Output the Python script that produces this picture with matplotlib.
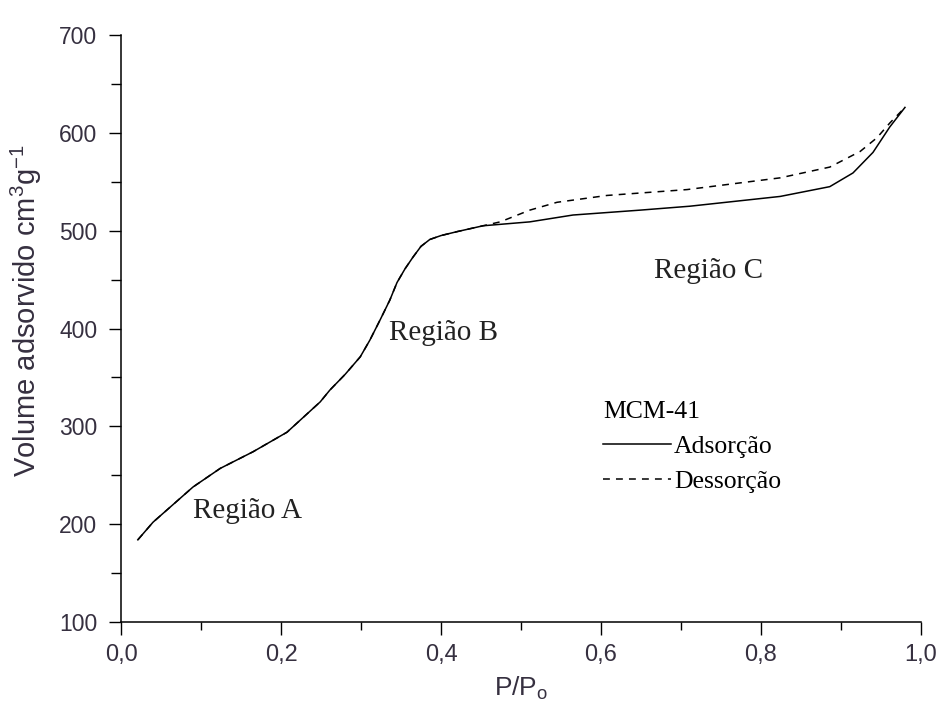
import matplotlib
matplotlib.use("Agg")
import matplotlib.pyplot as plt
from matplotlib.ticker import MultipleLocator, FuncFormatter

plt.rcParams['font.family'] = ['Liberation Sans', 'DejaVu Sans']
plt.rcParams['mathtext.fontset'] = 'custom'
plt.rcParams['mathtext.rm'] = 'Liberation Sans'
plt.rcParams['mathtext.it'] = 'Liberation Sans:italic'

# adsorption branch (P/P0, volume cm3/g)
p_ads = [0.021, 0.040, 0.090, 0.124, 0.165, 0.2075, 0.249, 0.261, 0.280, 0.299,
         0.311, 0.324, 0.336, 0.345, 0.355, 0.365, 0.375, 0.386, 0.400, 0.420,
         0.4525, 0.511, 0.565, 0.649, 0.711, 0.824, 0.886, 0.915, 0.940, 0.961,
         0.980]
v_ads = [184, 202, 238, 257, 274, 294, 325, 337, 353, 371,
         388, 409, 429, 447, 461, 473, 484, 491, 495, 499,
         505, 509, 516, 521, 525, 535, 545, 559, 580, 606,
         626]

# desorption branch
p_des = [0.021, 0.040, 0.090, 0.124, 0.165, 0.2075, 0.249, 0.261, 0.280, 0.299,
         0.311, 0.324, 0.336, 0.345, 0.355, 0.365, 0.375, 0.386, 0.400, 0.420,
         0.4525, 0.474, 0.511, 0.545, 0.6075, 0.7075, 0.824, 0.886, 0.924, 0.945,
         0.961, 0.980]
v_des = [184, 202, 238, 257, 274, 294, 325, 337, 353, 371,
         388, 409, 429, 447, 461, 473, 484, 491, 495, 499,
         505, 509, 521, 529, 536, 542, 554, 565, 581, 595,
         610, 626]

regions = ["Região A", "Região B", "Região C"]
region_x = [0.158, 0.4025, 0.734]
region_y = [206, 388, 452]

fig = plt.figure(figsize=(9.39, 7.16), dpi=100)
ax = fig.add_axes([0.1289, 0.1313, 0.8519, 0.8198])

ax.plot(p_ads, v_ads, color='black', lw=1.1, label='Adsorção')
ax.plot(p_des, v_des, color='black', lw=1.1, dashes=(4.5, 4), label='Dessorção')

ax.set_xlim(0, 1.0)
ax.set_ylim(100, 700)
ax.xaxis.set_major_locator(MultipleLocator(0.2))
ax.xaxis.set_minor_locator(MultipleLocator(0.1))
ax.yaxis.set_major_locator(MultipleLocator(100))
ax.yaxis.set_minor_locator(MultipleLocator(50))
ax.xaxis.set_major_formatter(FuncFormatter(lambda v, p: f"{v:.1f}".replace('.', ',')))

for s in ['top', 'right']:
    ax.spines[s].set_visible(False)
for s in ['left', 'bottom']:
    ax.spines[s].set_linewidth(1.1)

ax.tick_params(axis='both', which='major', direction='out', length=9, width=1.0,
               colors='black', labelcolor='#363040')
ax.tick_params(axis='x', which='major', labelsize=17, pad=7)
ax.tick_params(axis='y', which='major', labelsize=16.5, pad=8)
ax.tick_params(axis='x', which='minor', direction='out', length=6, width=1.0)
ax.tick_params(axis='y', which='minor', direction='out', length=7.5, width=1.0)

ax.set_xlabel('P/P$_\\mathrm{o}$', fontsize=19, color='#363040', labelpad=6)
ax.set_ylabel('Volume adsorvido cm$^\\mathrm{3}$g$^\\mathrm{-1}$', fontsize=21,
              color='#363040')
ax.yaxis.set_label_coords(-0.096, 0.53)

for name, x, y in zip(regions, region_x, region_y):
    ax.text(x, y, name, family='Liberation Serif', fontsize=21, ha='center',
            va='baseline', color='#222222')

leg = ax.legend(title='MCM-41', loc='upper left', bbox_to_anchor=(0.6025, 0.3765),
                frameon=False, prop={'family': 'Liberation Serif', 'size': 18.5},
                title_fontproperties={'family': 'Liberation Serif', 'size': 18.5},
                alignment='left', handlelength=2.65, handletextpad=0.12,
                labelspacing=0.47, borderpad=0, borderaxespad=0)

fig.savefig('out.png', dpi=100)
